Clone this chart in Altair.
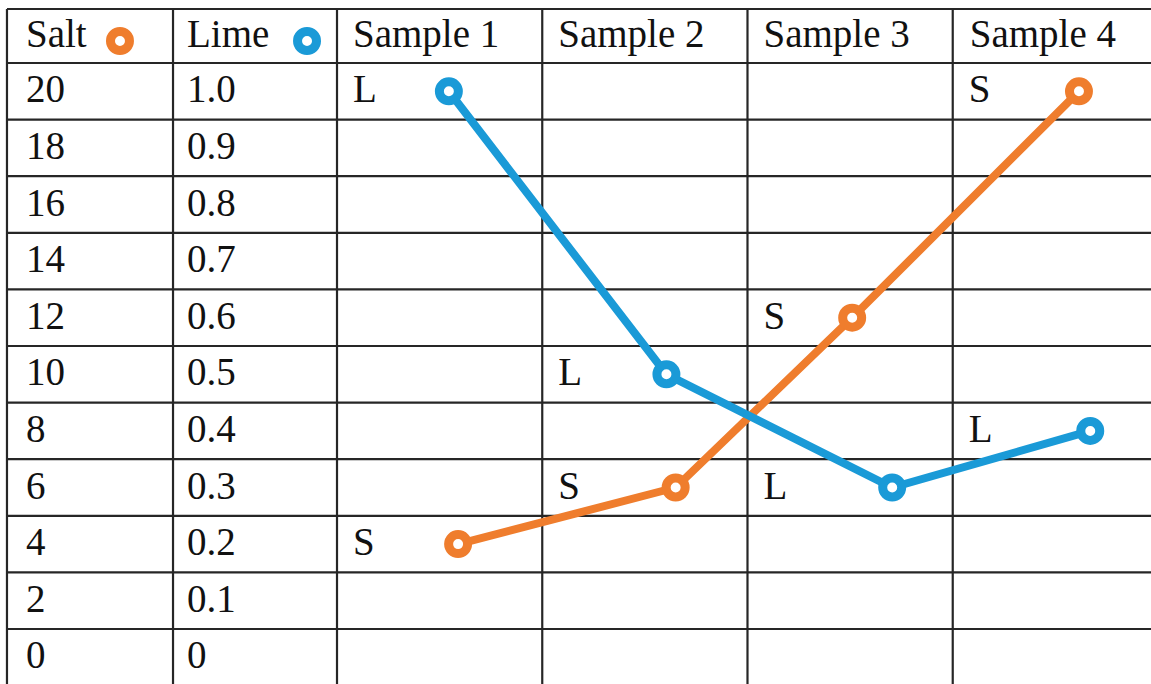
import altair as alt
import pandas as pd

# ---------------- data ----------------
samples = ["Sample 1", "Sample 2", "Sample 3", "Sample 4"]
salt_values = [4, 6, 12, 20]
lime_values = [1.0, 0.5, 0.3, 0.4]
salt_ticks = [20, 18, 16, 14, 12, 10, 8, 6, 4, 2, 0]
lime_ticks = ["1.0", "0.9", "0.8", "0.7", "0.6", "0.5", "0.4", "0.3", "0.2", "0.1", "0"]
series = ["Salt", "Lime"]
# where each marker sits across its sample cell (fraction of the cell width)
salt_cell_pos = [0.59, 0.65, 0.51, 0.615]
lime_cell_pos = [0.545, 0.605, 0.705, 0.67]

# ---------------- style / layout ----------------
ORANGE = "#EF7D2D"
BLUE = "#1A9AD7"
GRID = "#262626"
FONT = "Liberation Serif"
FS = 39
W, H = 1151, 684

# x in "sample column" units, y in salt units (one table row = 2 salt units)
X_MIN, X_MAX = -1.642, 3.966
Y_MIN, Y_MAX = -0.943, 23.226
UNIT_PX = W / (X_MAX - X_MIN)
col_edges = [-1.608, -0.799, 0, 1, 2, 3, 4]
col_pad_px = [19, 14, 16, 16, 16, 17]
legend_pad_px = [113, 134]
header_top = 22.908
header_mid = 21.954
row_bottom = -1.0

xs = alt.Scale(domain=[X_MIN, X_MAX], nice=False, zero=False)
ys = alt.Scale(domain=[Y_MIN, Y_MAX], nice=False, zero=False)
cscale = alt.Scale(domain=series, range=[ORANGE, BLUE])

# ---------------- tables ----------------
hlines = pd.DataFrame({
    "y": [header_top] + [21 - 2 * k for k in range(12)],
    "x": col_edges[0],
    "x2": col_edges[-1],
})
vlines = pd.DataFrame({"x": col_edges[:-1], "y": header_top, "y2": row_bottom})

header_txt = ["Salt", "Lime"] + samples
texts = []
for i, t in enumerate(header_txt):
    texts.append({"x": col_edges[i] + col_pad_px[i] / UNIT_PX, "y": header_mid, "t": t})
for v in salt_ticks:
    texts.append({"x": col_edges[0] + col_pad_px[0] / UNIT_PX, "y": v, "t": str(v)})
for lab in lime_ticks:
    texts.append({"x": col_edges[1] + col_pad_px[1] / UNIT_PX, "y": float(lab) * 20, "t": lab})
texts = pd.DataFrame(texts)

pts = []
for i, s in enumerate(samples):
    pts.append({"sample": s, "series": "Salt", "value": salt_values[i], "pos": i + salt_cell_pos[i], "col": i})
    pts.append({"sample": s, "series": "Lime", "value": lime_values[i], "pos": i + lime_cell_pos[i], "col": i})
pts = pd.DataFrame(pts)

legend_df = pd.DataFrame({
    "series": series,
    "x": [col_edges[k] + legend_pad_px[k] / UNIT_PX for k in range(2)],
    "y": header_mid,
})

# ---------------- layers ----------------
base_calc = alt.Chart(pts).transform_calculate(
    row="datum.series == 'Lime' ? datum.value * 20 : datum.value"
)

h_rules = alt.Chart(hlines).mark_rule(color=GRID, strokeWidth=2.2, clip=True).encode(
    x=alt.X("x:Q", scale=xs, axis=None),
    x2="x2:Q",
    y=alt.Y("y:Q", scale=ys, axis=None),
)
v_rules = alt.Chart(vlines).mark_rule(color=GRID, strokeWidth=2.2, clip=True).encode(
    x=alt.X("x:Q", scale=xs, axis=None),
    y=alt.Y("y:Q", scale=ys, axis=None),
    y2="y2:Q",
)
text_layer = alt.Chart(texts).mark_text(
    font=FONT, fontSize=FS, color="#111111", align="left", baseline="alphabetic", dy=11
).encode(
    x=alt.X("x:Q", scale=xs, axis=None),
    y=alt.Y("y:Q", scale=ys, axis=None),
    text="t:N",
)
letters = base_calc.transform_calculate(
    letter="datum.series == 'Lime' ? 'L' : 'S'"
).mark_text(
    font=FONT, fontSize=FS, color="#111111", align="left", baseline="alphabetic", dx=16, dy=11
).encode(
    x=alt.X("col:Q", scale=xs, axis=None),
    y=alt.Y("row:Q", scale=ys, axis=None),
    text="letter:N",
)
lines = base_calc.mark_line(strokeWidth=8).encode(
    x=alt.X("pos:Q", scale=xs, axis=None),
    y=alt.Y("row:Q", scale=ys, axis=None),
    color=alt.Color("series:N", scale=cscale, legend=None),
    detail="series:N",
    order="pos:Q",
)
rings = base_calc.mark_circle(size=360, strokeWidth=9, opacity=1).encode(
    x=alt.X("pos:Q", scale=xs, axis=None),
    y=alt.Y("row:Q", scale=ys, axis=None),
    fill=alt.value("white"),
    stroke=alt.Stroke("series:N", scale=cscale, legend=None),
)
legend_rings = alt.Chart(legend_df).mark_circle(size=360, strokeWidth=9, opacity=1, yOffset=5).encode(
    x=alt.X("x:Q", scale=xs, axis=None),
    y=alt.Y("y:Q", scale=ys, axis=None),
    fill=alt.value("white"),
    stroke=alt.Stroke("series:N", scale=cscale, legend=None),
)

chart = alt.layer(h_rules, v_rules, text_layer, letters, lines, rings, legend_rings).properties(
    width=W, height=H, padding=0, autosize=alt.AutoSizeParams(type="none"), background="white"
).configure_view(stroke=None)

chart.save("out.html", embed_options={"renderer": "svg", "actions": False})
